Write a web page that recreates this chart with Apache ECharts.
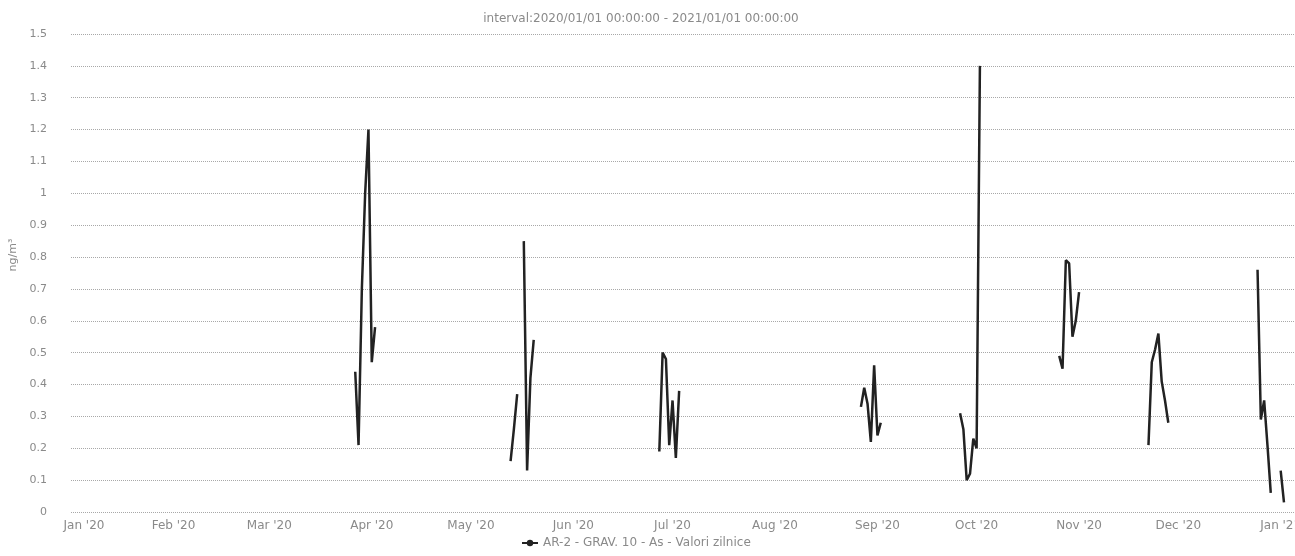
<!DOCTYPE html>
<html>
<head>
<meta charset="utf-8">
<script src="https://cdn.jsdelivr.net/npm/echarts@6/dist/echarts.min.js"></script>
<style>
html,body{margin:0;padding:0;background:#fff;}
#c{width:1295px;height:556px;}
</style>
</head>
<body>
<div id="c"></div>
<script>
// ---- data ----
const titleText = 'interval:2020/01/01 00:00:00 - 2021/01/01 00:00:00';
const seriesName = 'AR-2 - GRAV. 10 - As - Valori zilnice';
const yUnit = 'ng/m³';

const tickDates = ['2020-01-01','2020-02-01','2020-03-01','2020-04-01','2020-05-01','2020-06-01','2020-07-01','2020-08-01','2020-09-01','2020-10-01','2020-11-01','2020-12-01','2021-01-01'];
const tickLabels = ["Jan '20","Feb '20","Mar '20","Apr '20","May '20","Jun '20","Jul '20","Aug '20","Sep '20","Oct '20","Nov '20","Dec '20","Jan '21"];

const dates = [
 '2020-03-27','2020-03-28','2020-03-29','2020-03-30','2020-03-31','2020-04-01','2020-04-02','2020-04-03',
 '2020-05-13','2020-05-14','2020-05-15','2020-05-16','2020-05-17','2020-05-18','2020-05-19','2020-05-20','2020-05-21',
 '2020-06-27','2020-06-28','2020-06-29','2020-06-30','2020-07-01','2020-07-02','2020-07-03','2020-07-04',
 '2020-08-27','2020-08-28','2020-08-29','2020-08-30','2020-08-31','2020-09-01','2020-09-02','2020-09-03',
 '2020-09-26','2020-09-27','2020-09-28','2020-09-29','2020-09-30','2020-10-01','2020-10-02','2020-10-03',
 '2020-10-26','2020-10-27','2020-10-28','2020-10-29','2020-10-30','2020-10-31','2020-11-01','2020-11-02',
 '2020-11-22','2020-11-23','2020-11-24','2020-11-25','2020-11-26','2020-11-27','2020-11-28','2020-11-29',
 '2020-12-25','2020-12-26','2020-12-27','2020-12-28','2020-12-29','2020-12-30','2020-12-31','2021-01-01','2021-01-02'
];
const asValues = [
 0.44,0.21,0.70,1.00,1.20,0.47,0.58,null,
 0.16,0.26,0.37,null,0.85,0.13,0.42,0.54,null,
 0.19,0.50,0.48,0.21,0.35,0.17,0.38,null,
 0.33,0.39,0.34,0.22,0.46,0.24,0.28,null,
 0.31,0.26,0.10,0.12,0.23,0.20,1.40,null,
 0.49,0.45,0.79,0.78,0.55,0.60,0.69,null,
 0.21,0.47,0.51,0.56,0.41,0.35,0.28,null,
 0.76,0.29,0.35,0.21,0.06,null,null,0.13,0.03
];

// ---- chart ----
function toTs(s){ const p = s.split('-').map(Number); return Date.UTC(p[0], p[1]-1, p[2]); }
const tickTs = tickDates.map(toTs);
const seriesData = dates.map((d,i)=>[toTs(d), asValues[i]]);

const textColor = '#8a8a8a';
const font = '"DejaVu Sans", Verdana, sans-serif';

const chart = echarts.init(document.getElementById('c'), null, {renderer:'canvas'});
chart.setOption({
  animation:false,
  backgroundColor:'#fff',
  title:{
    text:titleText, left:636, textAlign:'center', top:8,
    textStyle:{fontSize:12, fontWeight:'normal', color:textColor, fontFamily:font}
  },
  legend:{
    data:[seriesName], left:516, bottom:2, itemWidth:16, itemHeight:8, itemGap:5,
    textStyle:{fontSize:12, color:textColor, fontFamily:font}
  },
  grid:{left:71, right:0, top:34, bottom:44, outerBoundsMode:'none', containLabel:false},
  xAxis:{
    type:'value',
    min:toTs('2020-01-01'),
    max:toTs('2021-01-05') + 8*3600*1000,
    axisLine:{show:false},
    axisTick:{show:false},
    splitLine:{show:false},
    axisLabel:{
      customValues:tickTs,
      margin:8,
      fontSize:12, color:textColor, fontFamily:font,
      hideOverlap:false,
      showMinLabel:true, showMaxLabel:true,
      formatter:function(v){
        const i = tickTs.indexOf(v);
        if(i===0) return '{first|'+tickLabels[i]+'}';
        return i>=0 ? tickLabels[i] : '';
      },
      rich:{first:{fontSize:12, color:textColor, fontFamily:font, padding:[0,0,0,26]}}
    }
  },
  yAxis:{
    type:'value', min:0, max:1.5, interval:0.1,
    name:yUnit, nameLocation:'middle', nameRotate:90, nameGap:43,
    nameTextStyle:{fontSize:11, color:textColor, fontFamily:font, padding:[0,0,0,36]},
    axisLine:{show:false}, axisTick:{show:false},
    axisLabel:{margin:24, fontSize:11, color:textColor, fontFamily:font},
    splitLine:{show:true, lineStyle:{color:'#a8a8a8', type:'dotted', width:1}}
  },
  series:[{
    name:seriesName, type:'line', data:seriesData,
    showSymbol:false, symbol:'circle', symbolSize:7,
    connectNulls:false,
    lineStyle:{color:'#222', width:2.5},
    itemStyle:{color:'#222'}
  }]
});
</script>
</body>
</html>
